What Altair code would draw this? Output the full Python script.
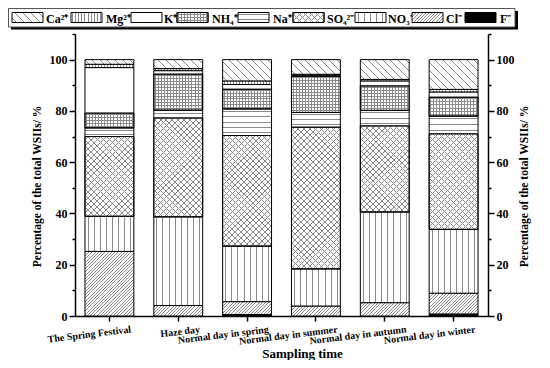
import altair as alt
import pandas as pd

# ---------------- data ----------------
times = ["The Spring Festival", "Haze day", "Normal day in spring",
         "Normal day in summer", "Normal day in autumn", "Normal day in winter"]
ions = ["F", "Cl", "NO3", "SO4", "Na", "NH4", "K", "Mg", "Ca"]          # bottom -> top
ion_labels = ["F⁻", "Cl⁻", "NO₃⁻", "SO₄²⁻", "Na⁺", "NH₄⁺", "K⁺", "Mg²⁺", "Ca²⁺"]

F_vals   = [0.0, 0.0, 0.6, 0.0, 0.0, 0.8]
Cl_vals  = [25.2, 4.1, 5.0, 3.9, 5.2, 8.1]
NO3_vals = [13.7, 34.6, 21.7, 14.5, 35.4, 24.9]
SO4_vals = [31.1, 38.6, 43.1, 55.3, 33.6, 37.3]
Na_vals  = [3.4, 3.0, 10.4, 5.7, 6.0, 6.9]
NH4_vals = [5.8, 14.1, 7.7, 14.1, 9.6, 7.4]
K_vals   = [17.7, 1.3, 1.8, 0.4, 1.9, 2.0]
Mg_vals  = [1.3, 0.8, 1.4, 0.4, 0.6, 1.0]
Ca_vals  = [1.8, 3.5, 8.3, 5.7, 7.7, 11.6]

series = {"F": F_vals, "Cl": Cl_vals, "NO3": NO3_vals, "SO4": SO4_vals, "Na": Na_vals,
          "NH4": NH4_vals, "K": K_vals, "Mg": Mg_vals, "Ca": Ca_vals}

rows = []
for k, ion in enumerate(ions):
    for t, v in zip(times, series[ion]):
        rows.append({"time": t, "ion": ion, "value": v, "order": k})
df = pd.DataFrame(rows)

# ---------------- layout / styling ----------------
W, H = 413, 282
YMAX = 110
PAD_INNER = 0.29
BAR_W = W / len(times) * (1 - PAD_INNER)
SERIF = "Liberation Serif"
LINE = "#8a8a8a"
CLEAR = "rgba(255,255,255,0)"


def grad(kind, w, h, spacing, bg="white", col=LINE, lw=1.0):
    """Hatch pattern emulated with a hard-stop linear gradient (bbox units)."""
    w = max(w, 0.5)
    h = max(h, 0.5)
    if kind == "v":
        x1, y1, x2, y2, length = 0, 0, 1, 0, w
    elif kind == "h":
        x1, y1, x2, y2, length = 0, 0, 0, 1, h
    else:
        k = (w + h) / (w * w + h * h)
        length = w + h
        if kind == "slash":
            x1, y1, x2, y2 = 0, 0, k * w, k * h
        else:  # back-slash
            x1, y1, x2, y2 = 0, 1, k * w, 1 - k * h
    n = max(1, round(length / spacing))
    frac = min(0.6, lw * n / length)
    stops = [{"offset": 0, "color": bg}]
    for i in range(n):
        s = (i + 0.5) / n - frac / (2 * n)
        e = (i + 0.5) / n + frac / (2 * n)
        stops += [{"offset": s, "color": bg}, {"offset": s, "color": col},
                  {"offset": e, "color": col}, {"offset": e, "color": bg}]
    stops.append({"offset": 1, "color": bg})
    return {"gradient": "linear", "x1": x1, "y1": y1, "x2": x2, "y2": y2, "stops": stops}


def fills_for(ion, w, h):
    if ion == "F":
        return ["black"]
    if ion == "K":
        return ["white"]
    if ion == "Cl":
        return [grad("slash", w, h, 3.2)]
    if ion == "NO3":
        return [grad("v", w, h, 6.0)]
    if ion == "SO4":
        return [grad("slash", w, h, 6.0), grad("back", w, h, 6.0, bg=CLEAR)]
    if ion == "Na":
        return [grad("h", w, h, 5.5)]
    if ion == "NH4":
        return [grad("v", w, h, 3.0), grad("h", w, h, 3.0, bg=CLEAR)]
    if ion == "Mg":
        return [grad("v", w, h, 3.0)]
    if ion == "Ca":
        return [grad("back", w, h, 8.0)]


yscale = alt.Scale(domain=[0, YMAX], nice=False)
xscale = alt.Scale(paddingInner=PAD_INNER, paddingOuter=PAD_INNER / 2)

tick_cond = {"condition": {"test": "datum.value % 20 === 0", "value": 6}, "value": 3}
label_expr = "datum.value % 20 === 0 && datum.value <= 100 ? datum.label : ''"
common_y = dict(values=list(range(0, 111, 10)), labelExpr=label_expr, grid=False,
                domainColor="black", domainWidth=1.5, tickColor="black", tickWidth=1.5,
                tickSize=tick_cond, labelFont=SERIF, labelFontSize=12, labelFontWeight="bold",
                labelColor="black", labelPadding=2,
                title="Percentage of the total WSIIs/ %", titleFont=SERIF, titleFontSize=11.5,
                titleFontWeight="bold", titleColor="black", titleBaseline="middle",
                titleAngle=270, titleY=152, titleAlign="center")

left_axis = alt.Axis(orient="left", titleX=-38, **common_y)
right_axis = alt.Axis(orient="right", titleX=36, **common_y)

x_axis = alt.Axis(title="Sampling time", labelAngle=353, labelAlign="right", labelBaseline="top",
                  labelOffset=21, labelPadding=3, labelFont=SERIF, labelFontSize=10,
                  labelFontWeight="bold", labelColor="black", domainColor="black",
                  domainWidth=1.5, tickColor="black", tickWidth=1.5, tickSize=5,
                  titleFont=SERIF, titleFontSize=13, titleFontWeight="bold", titleColor="black",
                  titleX=227, titleY=41, titleBaseline="alphabetic", titleAlign="center")

stacked = alt.Chart(df).transform_stack(
    stack="value", groupby=["time"], as_=["y0", "y1"],
    sort=[alt.SortField(field="order", order="ascending")])

bar_layers = []
for ion in ions:
    for t, v in zip(times, series[ion]):
        h = v * H / YMAX
        for j, f in enumerate(fills_for(ion, BAR_W, h)):
            if ion == "F" and t == times[0]:
                yax = left_axis
            elif ion == "Cl" and t == times[0] and j == 0:
                yax = right_axis
            else:
                yax = None
            layer = stacked.transform_filter(
                (alt.datum.ion == ion) & (alt.datum.time == t)).mark_bar(
                fill=f, stroke="black", strokeWidth=1).encode(
                x=alt.X("time:N", sort=times, scale=xscale, axis=x_axis),
                y=alt.Y("y0:Q", scale=yscale, axis=yax),
                y2="y1:Q")
            bar_layers.append(layer)

# ---------------- legend (drawn as marks above the plot) ----------------
one = pd.DataFrame({"k": [0]})
legend_order = ["Ca", "Mg", "K", "NH4", "Na", "SO4", "NO3", "Cl", "F"]
swatch_x = [-63, -4, 56, 102, 163, 218, 280, 337, 390]
text_x = [-29, 31, 89, 137, 198, 252, 313, 371, 425]
SW_W, SW_H = 31, 10
SW_TOP = -21.5

legend_layers = [
    alt.Chart(one).mark_rect(fill="black").encode(
        x=alt.value(-64), x2=alt.value(443), y=alt.value(-23), y2=alt.value(-4.5)),
    alt.Chart(one).mark_rect(fill="white", stroke="#555", strokeWidth=1).encode(
        x=alt.value(-66.5), x2=alt.value(440), y=alt.value(-25.5), y2=alt.value(-7)),
]
for ion, sx, tx in zip(legend_order, swatch_x, text_x):
    for f in fills_for(ion, SW_W, SW_H):
        legend_layers.append(alt.Chart(one).mark_rect(fill=f, stroke="black", strokeWidth=1).encode(
            x=alt.value(sx), x2=alt.value(sx + SW_W), y=alt.value(SW_TOP), y2=alt.value(SW_TOP + SW_H)))
    legend_layers.append(alt.Chart(one).mark_text(
        text=ion_labels[ions.index(ion)], align="left", baseline="alphabetic", font=SERIF,
        fontSize=12, fontWeight="bold", color="black").encode(
        x=alt.value(tx), y=alt.value(SW_TOP + SW_H)))

chart = alt.layer(*bar_layers, *legend_layers).resolve_axis(y="independent").properties(
    width=W, height=H,
    autosize=alt.AutoSizeParams(type="none"),
    padding={"left": 67, "top": 26, "right": 54, "bottom": 44},
).configure_view(stroke=None)

chart.save("out.html", embed_options={"renderer": "svg", "actions": False})
